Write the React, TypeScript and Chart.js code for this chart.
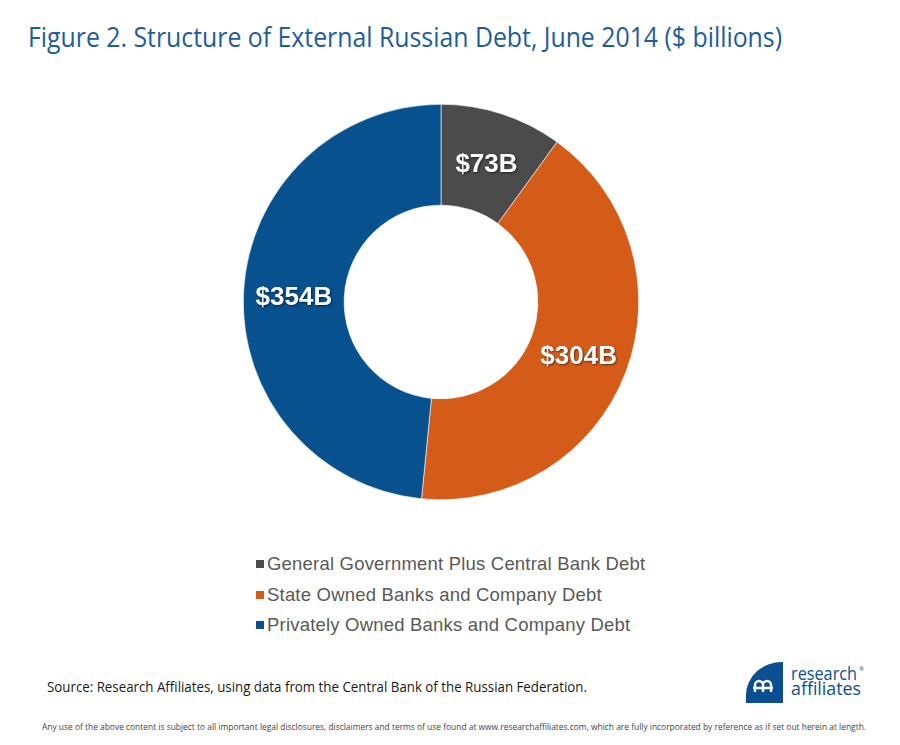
import React, { useEffect, useLayoutEffect, useRef } from "react";
import { Chart, registerables } from "chart.js";

Chart.register(...registerables);

const categories = [
  "General Government Plus Central Bank Debt",
  "State Owned Banks and Company Debt",
  "Privately Owned Banks and Company Debt",
];
const debtValues = [73, 304, 354];
const sliceColors = ["#4b4b4b", "#d55b19", "#07518f"];
const titleText = "Figure 2. Structure of External Russian Debt, June 2014 ($ billions)";
const sourceText = "Source: Research Affiliates, using data from the Central Bank of the Russian Federation.";
const footerText =
  "Any use of the above content is subject to all important legal disclosures, disclaimers and terms of use found at www.researchaffiliates.com, which are fully incorporated by reference as if set out herein at length.";

const sliceLabelPlugin = {
  id: "sliceLabels",
  afterDatasetsDraw(chart: any) {
    const ctx = chart.ctx;
    const meta = chart.getDatasetMeta(0);
    const data = chart.data.datasets[0].data as number[];
    ctx.save();
    ctx.font = "bold 26px 'Liberation Sans', Arial, sans-serif";
    ctx.textAlign = "center";
    ctx.textBaseline = "middle";
    ctx.fillStyle = "#ffffff";
    ctx.shadowColor = "rgba(0,0,0,0.55)";
    ctx.shadowBlur = 2;
    ctx.shadowOffsetX = 1;
    ctx.shadowOffsetY = 1;
    meta.data.forEach((arc: any, i: number) => {
      const p = arc.tooltipPosition(false);
      ctx.fillText("$" + data[i] + "B", p.x, p.y + 3);
    });
    ctx.restore();
  },
};

function FitText(props: {
  text: string;
  width: number;
  left: number;
  top: number;
  font: string;
  size: number;
  color: string;
}) {
  const ref = useRef<HTMLSpanElement>(null);
  useLayoutEffect(() => {
    const el = ref.current;
    if (!el) return;
    el.style.transform = "none";
    const w = el.getBoundingClientRect().width;
    if (w > 0) el.style.transform = `scaleX(${props.width / w})`;
  }, [props.text, props.width]);
  return (
    <span
      ref={ref}
      style={{
        position: "absolute",
        left: props.left,
        top: props.top,
        whiteSpace: "nowrap",
        fontFamily: props.font,
        fontSize: props.size,
        lineHeight: 1,
        color: props.color,
        transformOrigin: "0 0",
      }}
    >
      {props.text}
    </span>
  );
}

export default function App() {
  const canvasRef = useRef<HTMLCanvasElement>(null);

  useEffect(() => {
    if (!canvasRef.current) return;
    const chart = new Chart(canvasRef.current, {
      type: "doughnut",
      data: {
        labels: categories,
        datasets: [
          {
            data: debtValues,
            backgroundColor: sliceColors,
            borderColor: "#ffffff",
            borderWidth: 0.6,
          },
        ],
      },
      options: {
        animation: false,
        responsive: true,
        maintainAspectRatio: false,
        cutout: "49%",
        layout: { padding: 0 },
        plugins: {
          legend: { display: false },
          tooltip: { enabled: false },
          title: { display: false },
        },
      },
      plugins: [sliceLabelPlugin],
    });
    return () => chart.destroy();
  }, []);

  return (
    <div
      style={{
        position: "absolute",
        left: 0,
        top: 0,
        width: 900,
        height: 745,
        background: "#ffffff",
        overflow: "hidden",
      }}
    >
      <FitText
        text={titleText}
        width={754}
        left={28}
        top={22}
        font="'Open Sans', sans-serif"
        size={28}
        color="#1d5d9b"
      />
      <div style={{ position: "absolute", left: 243, top: 104, width: 396, height: 396 }}>
        <canvas ref={canvasRef} />
      </div>
      <div style={{ position: "absolute", left: 256, top: 549 }}>
        {categories.map((c, i) => (
          <div
            key={c}
            style={{
              display: "flex",
              alignItems: "center",
              height: 30.5,
              fontFamily: "'Liberation Sans', Arial, sans-serif",
              fontSize: 18.5,
              letterSpacing: 0.2,
              color: "#595959",
              whiteSpace: "nowrap",
            }}
          >
            <span
              style={{
                display: "inline-block",
                width: 8,
                height: 8,
                background: sliceColors[i],
                marginRight: 3,
              }}
            />
            {c}
          </div>
        ))}
      </div>
      <FitText
        text={sourceText}
        width={540}
        left={47}
        top={680}
        font="'Open Sans', sans-serif"
        size={14}
        color="#1a1a1a"
      />
      <FitText
        text={footerText}
        width={824}
        left={42}
        top={722}
        font="'Open Sans', sans-serif"
        size={9}
        color="#444444"
      />
      <svg
        style={{ position: "absolute", left: 744, top: 661 }}
        width={40}
        height={43}
        viewBox="0 0 40 43"
      >
        <path d="M39 1 L39 42 L2 42 L2 34 A36 33 0 0 1 39 1 Z" fill="#0b4f92" />
        <path
          d="M11 31 L11 24 A4 4 0 0 1 19 24 L19 31 M19 24 A4 4 0 0 1 27 24 L27 31 M9 27 L29 27"
          stroke="#ffffff"
          strokeWidth={2.4}
          fill="none"
        />
      </svg>
      <FitText
        text="research"
        width={66}
        left={791}
        top={664}
        font="'Open Sans', sans-serif"
        size={18}
        color="#0b4f92"
      />
      <span
        style={{
          position: "absolute",
          left: 859,
          top: 665,
          fontSize: 6,
          color: "#0b4f92",
          fontFamily: "'Open Sans', sans-serif",
        }}
      >
        ®
      </span>
      <FitText
        text="affiliates"
        width={70}
        left={791}
        top={679}
        font="'Open Sans', sans-serif"
        size={18}
        color="#0b4f92"
      />
    </div>
  );
}
